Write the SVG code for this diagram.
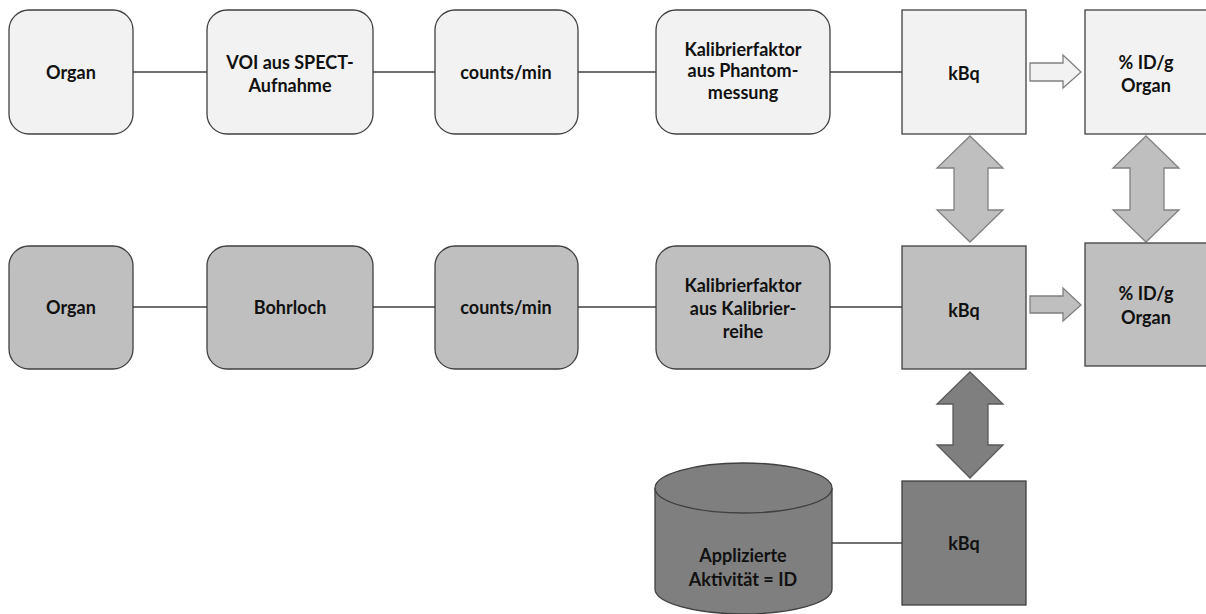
<svg xmlns="http://www.w3.org/2000/svg" width="1206" height="614" viewBox="0 0 1206 614">
<style>
text{font-family:Lato,"Open Sans","Liberation Sans",sans-serif;font-weight:bold;font-size:18px;fill:#111;text-anchor:middle;dominant-baseline:central}
.l1{fill:#f2f2f2;stroke:#404040;stroke-width:1.3}
.l2{fill:#bfbfbf;stroke:#404040;stroke-width:1.3}
.l3{fill:#7f7f7f;stroke:#404040;stroke-width:1.3}
.con{stroke:#404040;stroke-width:1.3;fill:none}
.a1{fill:#f2f2f2;stroke:#808080;stroke-width:1.3}
.a2{fill:#bfbfbf;stroke:#808080;stroke-width:1.3}
.a3{fill:#7f7f7f;stroke:#5a5a5a;stroke-width:1.3}
</style>
<rect width="1206" height="614" fill="#fff"/>
<g id="connectors">
<line class="con" x1="133" y1="72" x2="207" y2="72"/>
<line class="con" x1="373" y1="72" x2="435" y2="72"/>
<line class="con" x1="578" y1="72" x2="656" y2="72"/>
<line class="con" x1="830" y1="72" x2="902" y2="72"/>
<line class="con" x1="133" y1="307" x2="207" y2="307"/>
<line class="con" x1="373" y1="307" x2="435" y2="307"/>
<line class="con" x1="578" y1="307" x2="656" y2="307"/>
<line class="con" x1="830" y1="307" x2="902" y2="307"/>
<line class="con" x1="832" y1="543" x2="902" y2="543"/>
<path class="a1" d="M1030,63 H1063 V55 L1081,72 L1063,88 V81 H1030 Z"/>
<path class="a2" d="M1030,296 H1063 V288 L1081,305 L1063,321 V313 H1030 Z"/>
<path class="a2" d="M970,136 L1003,168 H988 V210 H1003 L970,242 L937,210 H954 V168 H937 Z"/>
<path class="a2" d="M1146,136 L1179,168 H1164 V210 H1179 L1146,242 L1113,210 H1130 V168 H1113 Z"/>
<path class="a3" d="M970,372 L1003,404 H988 V445 H1003 L970,478 L937,445 H953 V404 H937 Z"/>
</g>
<g id="organ1"><rect class="l1" x="9" y="10" width="124" height="124" rx="20"/><text x="71" y="72">Organ</text></g>
<g id="voi"><rect class="l1" x="207" y="10" width="166" height="124" rx="20"/><text x="290" y="62">VOI aus SPECT-</text><text x="290" y="85">Aufnahme</text></g>
<g id="counts1"><rect class="l1" x="435" y="10" width="143" height="124" rx="20"/><text x="506" y="72">counts/min</text></g>
<g id="kal1"><rect class="l1" x="656" y="10" width="174" height="124" rx="20"/><text x="743" y="49">Kalibrierfaktor</text><text x="743" y="70">aus Phantom-</text><text x="743" y="92">messung</text></g>
<g id="kbq1"><rect class="l1" x="902" y="10" width="124" height="124"/><text x="964" y="73">kBq</text></g>
<g id="pid1"><rect class="l1" x="1085" y="10" width="124" height="124"/><text x="1146" y="62">% ID/g</text><text x="1146" y="85">Organ</text></g>
<g id="organ2"><rect class="l2" x="9" y="246" width="124" height="123" rx="20"/><text x="71" y="307">Organ</text></g>
<g id="bohr"><rect class="l2" x="207" y="246" width="166" height="123" rx="20"/><text x="290" y="307">Bohrloch</text></g>
<g id="counts2"><rect class="l2" x="435" y="246" width="143" height="123" rx="20"/><text x="506" y="307">counts/min</text></g>
<g id="kal2"><rect class="l2" x="656" y="246" width="174" height="123" rx="20"/><text x="743" y="285">Kalibrierfaktor</text><text x="743" y="308">aus Kalibrier-</text><text x="743" y="331">reihe</text></g>
<g id="kbq2"><rect class="l2" x="902" y="246" width="124" height="123"/><text x="964" y="310">kBq</text></g>
<g id="pid2"><rect class="l2" x="1085" y="243" width="124" height="123"/><text x="1146" y="293">% ID/g</text><text x="1146" y="317">Organ</text></g>
<g id="kbq3"><rect class="l3" x="902" y="481" width="124" height="124"/><text x="964" y="543">kBq</text></g>
<g id="aktiv"><path class="l3" d="M655,488 V589 A88.5,25 0 0 0 832,589 V488 A88.5,25 0 0 0 655,488 Z"/><path class="l3" d="M655,488 A88.5,25 0 0 0 832,488"/><text x="743" y="555">Applizierte</text><text x="743" y="579">Aktivität = ID</text></g>
</svg>
